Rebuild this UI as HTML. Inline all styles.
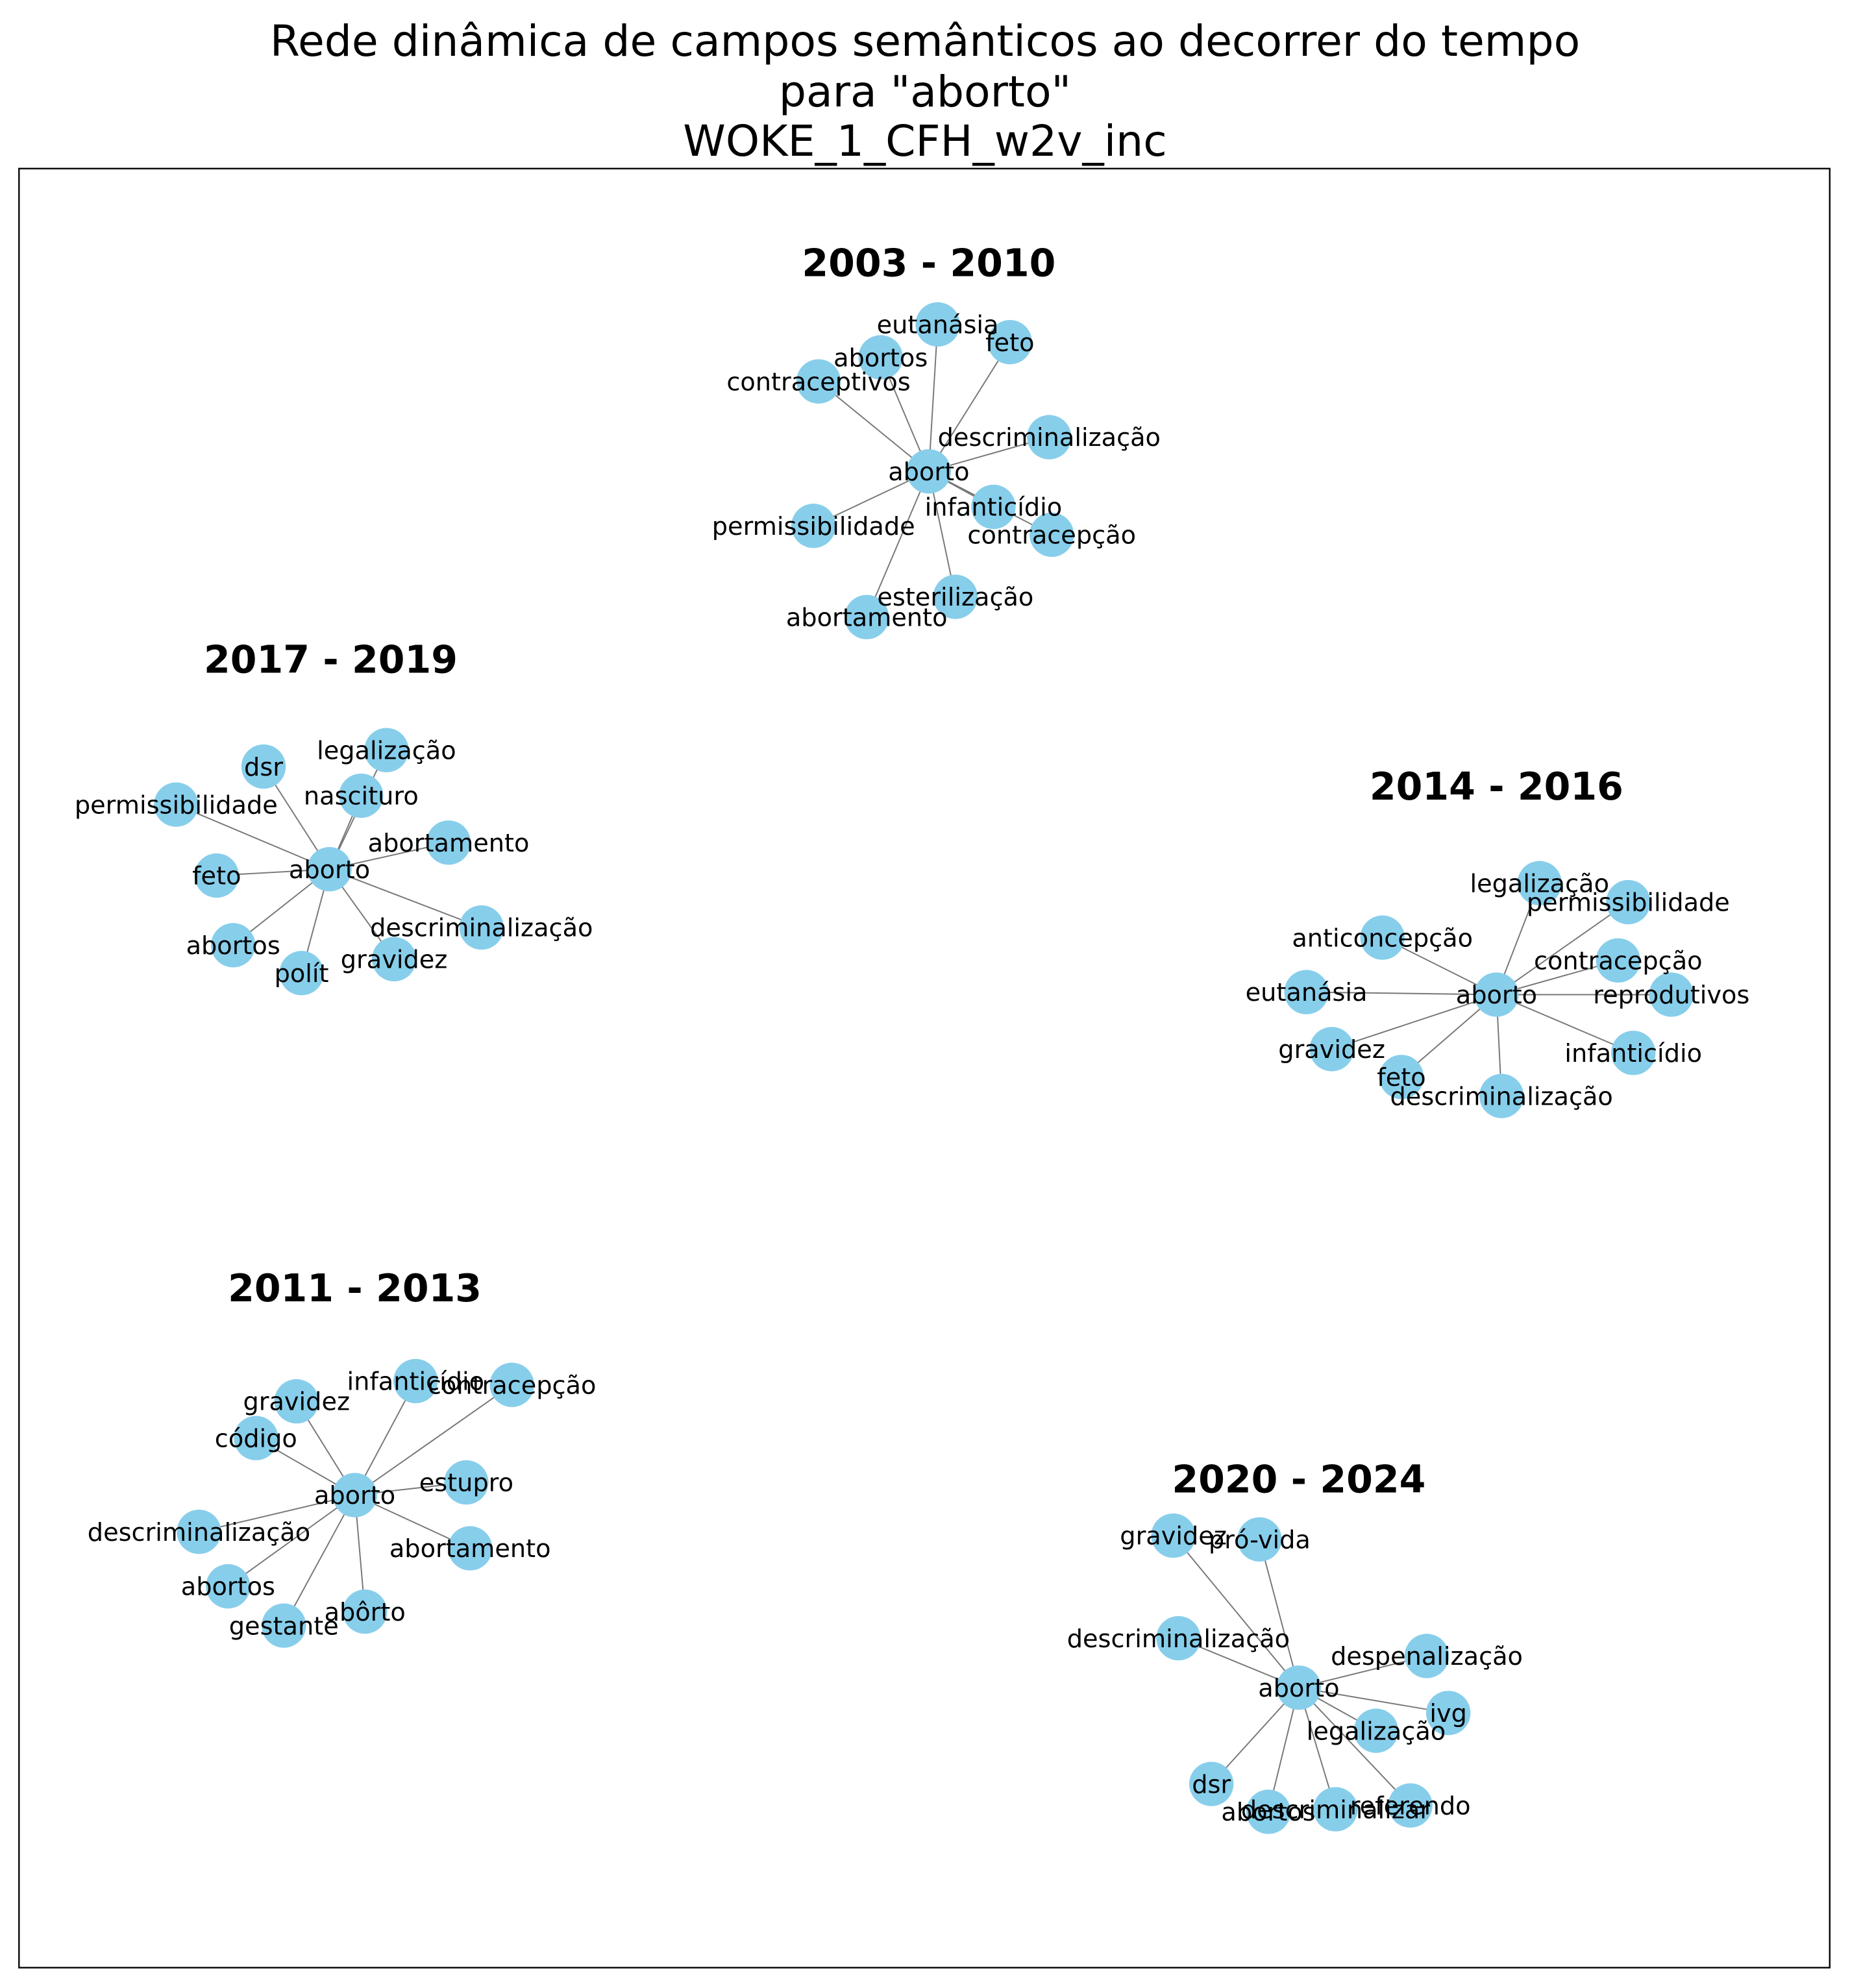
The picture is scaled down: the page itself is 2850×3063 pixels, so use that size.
<!DOCTYPE html>
<html><head><meta charset="utf-8"><style>html,body{margin:0;padding:0;background:#fff}svg{display:block}</style></head>
<body>
<svg id="chart" width="2850" height="3063" viewBox="0 0 1460 1569" xmlns="http://www.w3.org/2000/svg" font-family="'DejaVu Sans','Liberation Sans',sans-serif">
<rect x="15" y="133" width="1429" height="1420" fill="none" stroke="#000" stroke-width="1.2"/>
<g font-size="34" text-anchor="middle" fill="#000">
<text x="730" y="44">Rede dinâmica de campos semânticos ao decorrer do tempo</text>
<text x="730" y="84">para "aborto"</text>
<text x="730" y="123">WOKE_1_CFH_w2v_inc</text>
</g>
<g id="graphs"></g>
</svg>
<script>
const periods = ["2003 - 2010","2017 - 2019","2014 - 2016","2011 - 2013","2020 - 2024"];
const centers = [[733,372],[260,686],[1181,785],[280,1180],[1025,1332]];
const titlePos = [[733,208],[261,521],[1181,621],[280,1017],[1025,1168]];
const words = [
 ["eutanásia","feto","abortos","contraceptivos","descriminalização","infanticídio","contracepção","permissibilidade","esterilização","abortamento"],
 ["dsr","legalização","nascituro","permissibilidade","abortamento","feto","descriminalização","abortos","gravidez","polít"],
 ["legalização","permissibilidade","anticoncepção","contracepção","eutanásia","reprodutivos","gravidez","infanticídio","feto","descriminalização"],
 ["infanticídio","contracepção","gravidez","código","estupro","descriminalização","abortamento","abortos","abôrto","gestante"],
 ["gravidez","pró-vida","descriminalização","despenalização","ivg","legalização","dsr","abortos","descriminalizar","referendo"]
];
const nodeXY = [
 [[740,256],[797,270],[695,282],[646,301],[828,345],[784,400],[830,422],[642,415],[754,471],[684,487]],
 [[208,605],[305,592],[285,628],[139,635],[354,665],[171,691],[380,732],[184,746],[311,757],[238,768]],
 [[1215,697],[1285,712],[1091,740],[1277,758],[1031,783],[1319,785],[1051,828],[1289,831],[1106,850],[1185,865]],
 [[328,1090],[404,1093],[234,1106],[202,1135],[368,1170],[157,1209],[371,1222],[180,1252],[288,1272],[224,1283]],
 [[926,1212],[994,1215],[930,1293],[1126,1307],[1143,1352],[1086,1366],[956,1408],[1001,1430],[1054,1428],[1113,1425]]
];
const NS="http://www.w3.org/2000/svg";
const root=document.getElementById('graphs');
function mk(tag,attrs,parent){const e=document.createElementNS(NS,tag);for(const k in attrs)e.setAttribute(k,attrs[k]);parent.appendChild(e);return e;}
periods.forEach((p,gi)=>{
  const g=mk('g',{},root);
  
  
  const [cx,cy]=centers[gi];
  const t=mk('text',{x:titlePos[gi][0],y:titlePos[gi][1]+10,'font-size':30,'font-weight':'bold','text-anchor':'middle'},g);
  t.textContent=p;
  
  
  nodeXY[gi].forEach(([x,y])=>{
    const l=mk('line',{x1:cx,y1:cy,x2:x,y2:y,stroke:'#777','stroke-width':1},g);
    
    
  });
  const all=[[ 'aborto',cx,cy]].concat(words[gi].map((w,i)=>[w,nodeXY[gi][i][0],nodeXY[gi][i][1]]));
  all.forEach(([w,x,y])=>{
    const c=mk('circle',{cx:x,cy:y,r:17.5,fill:'#87CEEB'},g);
    
    
  });
  all.forEach(([w,x,y])=>{
    const tx=mk('text',{x:x,y:y+7,'font-size':19.6,'text-anchor':'middle'},g);
    tx.textContent=w;
    
    
  });
});
</script>
</body></html>
